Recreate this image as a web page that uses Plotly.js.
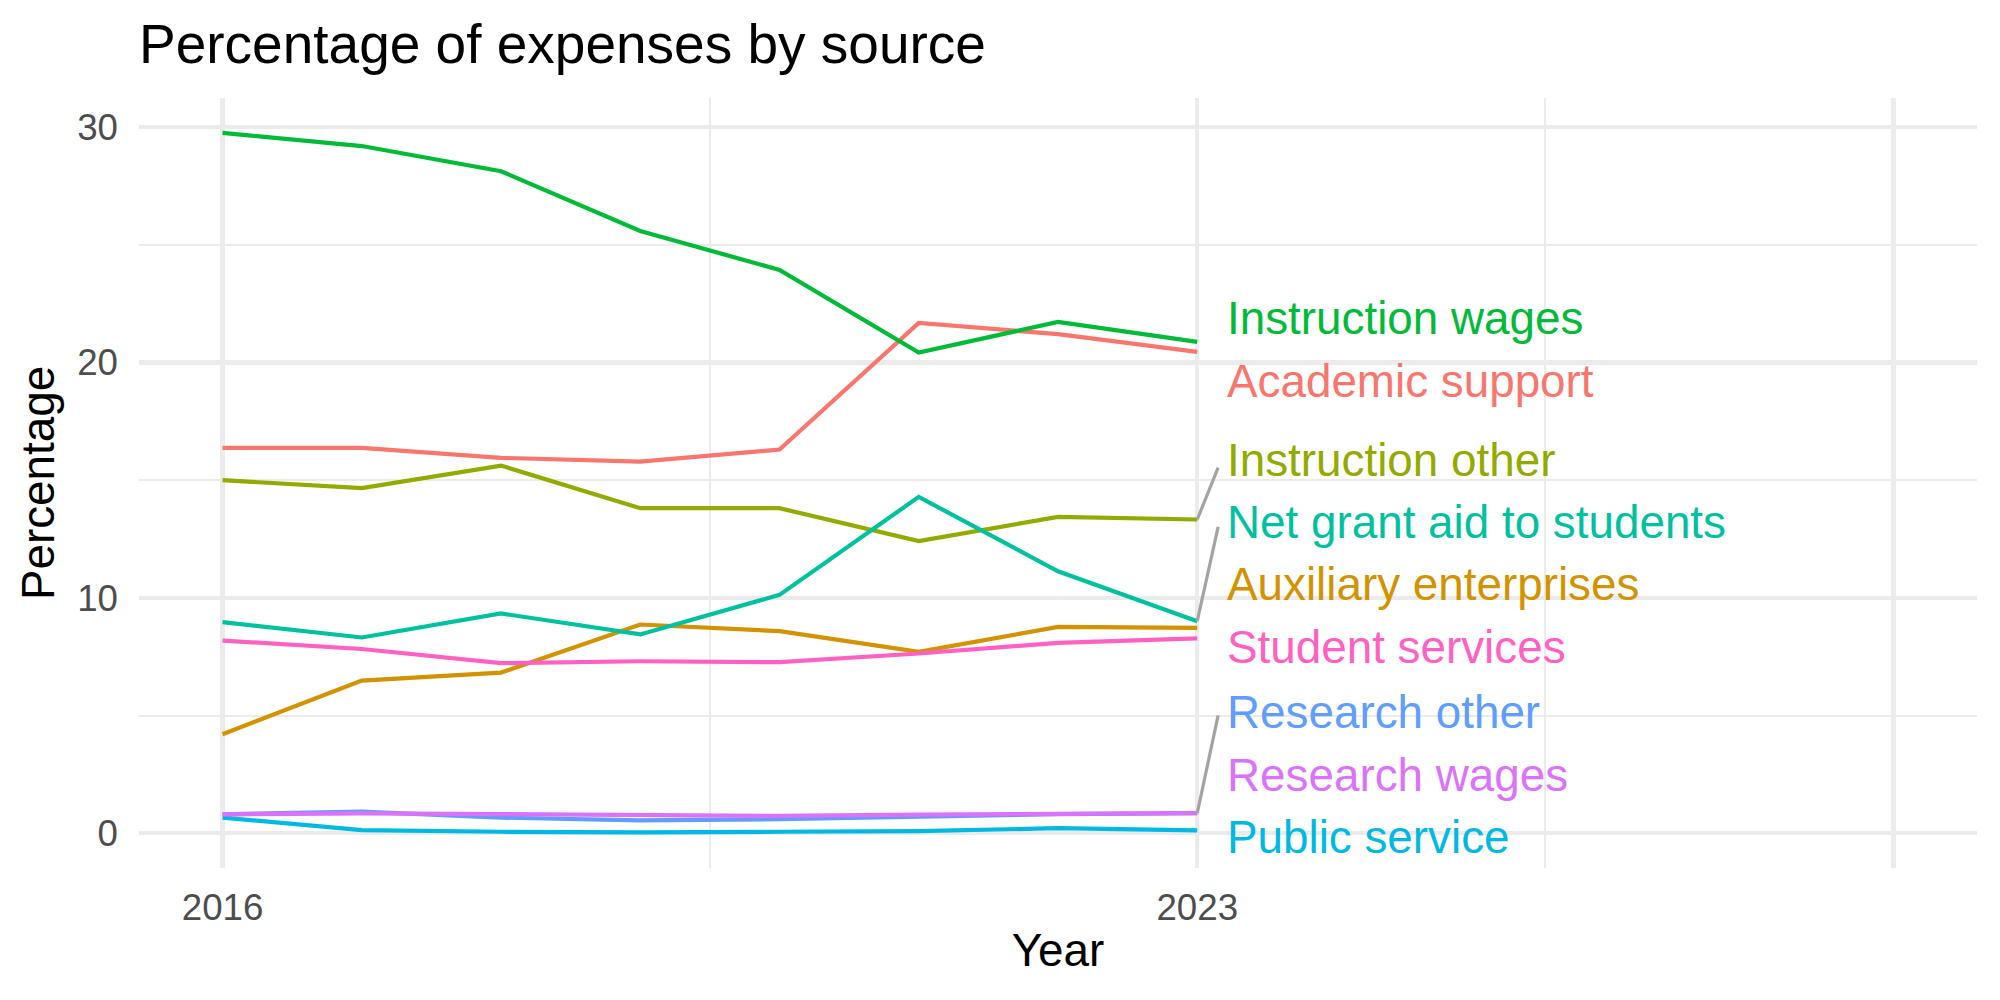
<!DOCTYPE html>
<html>
<head>
<meta charset="utf-8">
<script src="https://cdn.plot.ly/plotly-3.0.1.min.js"></script>
<style>html,body{margin:0;padding:0;background:#fff;}#chart{width:2000px;height:1000px;}</style>
</head>
<body>
<div id="chart"></div>
<script>
// ---- data ----
const years = [2016, 2017, 2018, 2019, 2020, 2021, 2022, 2023];
const seriesNames = [
  "Academic support", "Auxiliary enterprises", "Instruction other", "Instruction wages",
  "Net grant aid to students", "Public service", "Research other", "Research wages", "Student services"
];
const academicSupport      = [16.37, 16.37, 15.95, 15.79, 16.30, 21.68, 21.20, 20.45];
const auxiliaryEnterprises = [4.21, 6.49, 6.83, 8.87, 8.59, 7.71, 8.77, 8.73];
const instructionOther     = [15.00, 14.66, 15.62, 13.81, 13.81, 12.41, 13.44, 13.33];
const instructionWages     = [29.75, 29.19, 28.12, 25.58, 23.93, 20.42, 21.72, 20.87];
const netGrantAid          = [8.97, 8.32, 9.34, 8.45, 10.13, 14.29, 11.13, 9.01];
const publicService        = [0.67, 0.14, 0.07, 0.04, 0.07, 0.10, 0.22, 0.13];
const researchOther        = [0.81, 0.92, 0.67, 0.55, 0.60, 0.70, 0.82, 0.86];
const researchWages        = [0.81, 0.85, 0.82, 0.76, 0.74, 0.80, 0.84, 0.86];
const studentServices      = [8.19, 7.83, 7.23, 7.31, 7.27, 7.64, 8.09, 8.28];
const xTickVals = [2016, 2023, 2028];
const xTickText = ["2016", "2023", ""];
const yTickVals = [0, 10, 20, 30];
const yTickText = ["0", "10", "20", "30"];

// ---- styling / layout helpers ----
const seriesValues = [academicSupport, auxiliaryEnterprises, instructionOther, instructionWages,
  netGrantAid, publicService, researchOther, researchWages, studentServices];
const colors = ["#F8766D", "#D39200", "#93AA00", "#00BA38", "#00C19F", "#00B9E3", "#619CFF", "#DB72FB", "#FF61C3"];
// repelled label positions (y in data units), and whether a leader segment is drawn
const labelY = [19.19, 10.55, 15.84, 21.87, 13.22, -0.19, 5.14, 2.46, 7.90];
const segEndY = [null, null, 15.53, null, 13.02, null, 5.01, null, null];
const labelX = 2023.2;
const segEndX = 2023.15;

const font = "Liberation Sans, Arial, Helvetica, sans-serif";
const traces = seriesNames.map((name, i) => ({
  type: "scatter", mode: "lines", name: name,
  x: years, y: seriesValues[i],
  line: {color: colors[i], width: 4.2},
  hoverinfo: "skip", showlegend: false
}));

const lastIdx = years.length - 1;
const shapes = [];
seriesNames.forEach((n, i) => {
  if (segEndY[i] !== null) {
    shapes.push({type: "line", xref: "x", yref: "y",
      x0: years[lastIdx], y0: seriesValues[i][lastIdx], x1: segEndX, y1: segEndY[i],
      line: {color: "#A3A3A3", width: 3.2}});
  }
});

const annotations = seriesNames.map((n, i) => ({
  xref: "x", yref: "y", x: labelX, y: labelY[i], text: n, showarrow: false,
  xanchor: "left", yanchor: "middle", font: {family: font, size: 45.8, color: colors[i]}
}));

const layout = {
  width: 2000, height: 1000,
  paper_bgcolor: "#fff", plot_bgcolor: "#fff",
  margin: {l: 139, r: 23, t: 98, b: 132, pad: 0},
  title: {text: "Percentage of expenses by source", font: {family: font, size: 55, color: "#000"},
    xref: "paper", x: 0, xanchor: "left", yref: "container", y: 0.956, yanchor: "middle"},
  xaxis: {
    range: [2015.4, 2028.6], tickmode: "array", tickvals: xTickVals, ticktext: xTickText,
    showgrid: true, gridcolor: "#EBEBEB", gridwidth: 4.2, zeroline: false, showline: false,
    ticks: "", ticklabelstandoff: 14,
    tickfont: {family: font, size: 36.7, color: "#4D4D4D"},
    minor: {tickmode: "array", tickvals: [2019.5, 2025.5], showgrid: true, gridcolor: "#EBEBEB", gridwidth: 2.1, ticks: ""},
    title: {text: "Year", font: {family: font, size: 45.8, color: "#000"}, standoff: 7}
  },
  yaxis: {
    range: [-1.47, 31.23], tickmode: "array", tickvals: yTickVals, ticktext: yTickText,
    showgrid: true, gridcolor: "#EBEBEB", gridwidth: 4.2, zeroline: false, showline: false,
    ticks: "", ticklabelstandoff: 20,
    tickfont: {family: font, size: 36.7, color: "#4D4D4D"},
    minor: {tickmode: "array", tickvals: [5, 15, 25], showgrid: true, gridcolor: "#EBEBEB", gridwidth: 2.1, ticks: ""},
    title: {text: "Percentage", font: {family: font, size: 45.8, color: "#000"}, standoff: 8}
  },
  shapes: shapes,
  annotations: annotations
};

Plotly.newPlot("chart", traces, layout, {displayModeBar: false, staticPlot: true});
</script>
</body>
</html>
